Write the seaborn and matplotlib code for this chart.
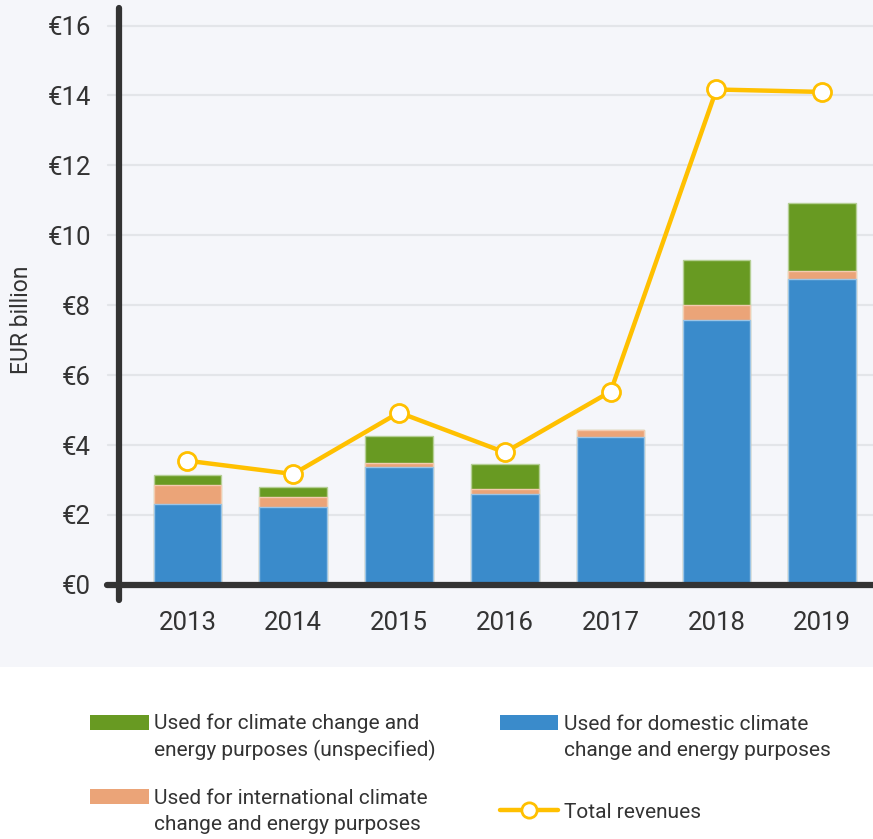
import numpy as np
import pandas as pd
import matplotlib
matplotlib.use("Agg")
import matplotlib.pyplot as plt
import seaborn as sns
from matplotlib.patches import Patch, Rectangle
from matplotlib.lines import Line2D
from matplotlib.legend_handler import HandlerBase

years = ["2013", "2014", "2015", "2016", "2017", "2018", "2019"]
domestic = [2.32, 2.23, 3.37, 2.60, 4.23, 7.59, 8.75]
international = [0.54, 0.28, 0.11, 0.14, 0.21, 0.41, 0.23]
unspecified = [0.28, 0.30, 0.78, 0.71, 0.00, 1.29, 1.94]
total_revenues = [3.55, 3.17, 4.93, 3.79, 5.53, 14.17, 14.10]
y_ticks = [0, 2, 4, 6, 8, 10, 12, 14, 16]

label_unspec = "Used for climate change and\nenergy purposes (unspecified)"
label_intl = "Used for international climate\nchange and energy purposes"
label_dom = "Used for domestic climate\nchange and energy purposes"
label_total = "Total revenues"

c_dom = "#3a8bcb"
c_intl = "#eba478"
c_unspec = "#689a22"
c_line = "#ffc000"
c_text = "#333333"
c_bg = "#f5f6fa"

sns.set_theme(style="white")
plt.rcParams["font.family"] = ["Roboto", "DejaVu Sans"]
plt.rcParams["text.color"] = c_text

df = pd.DataFrame({
    "year": years,
    "dom": domestic,
    "intl": international,
    "uns": unspecified,
    "total": total_revenues,
})
df["lvl2"] = df["dom"] + df["intl"]
df["lvl3"] = df["lvl2"] + df["uns"]

fig = plt.figure(figsize=(8.73, 8.39), dpi=100)
bg = Rectangle((0, 1 - 667 / 839), 1, 667 / 839, transform=fig.transFigure,
               facecolor=c_bg, edgecolor="none", zorder=-10)
fig.patches.append(bg)
ax = fig.add_axes([0.136, 0.285, 0.864, 0.705])
ax.set_zorder(2)
ax.set_facecolor(c_bg)

bar_kw = dict(width=0.64, linewidth=1.0, saturation=1, zorder=3)
sns.barplot(data=df, x="year", y="lvl3", color=c_unspec, edgecolor="#b5cf95", ax=ax, **bar_kw)
sns.barplot(data=df, x="year", y="lvl2", color=c_intl, edgecolor="#f3cbb0", ax=ax, **bar_kw)
sns.barplot(data=df, x="year", y="dom", color=c_dom, edgecolor="#9cc5e6", ax=ax, **bar_kw)

df["pos"] = np.arange(len(years))
sns.lineplot(data=df, x="pos", y="total", color=c_line, linewidth=3.2, marker="o",
             markersize=13, markerfacecolor="white", markeredgecolor=c_line,
             markeredgewidth=2.0, ax=ax, zorder=5)

ax.set_xlim(-0.65, 6.48)
ax.set_ylim(-0.43, 16.49)
ax.set_yticks(y_ticks)
ax.set_yticklabels([f"€{v}" for v in y_ticks])
ax.set_xticks(range(len(years)))
ax.set_xticklabels(years)
ax.set_xlabel("")
ax.set_ylabel("EUR billion", fontsize=16.5, color=c_text)
ax.yaxis.set_label_coords(-0.114, 0.473)
ax.tick_params(axis="y", length=0, pad=20, labelsize=18.5, labelcolor=c_text)
ax.tick_params(axis="x", length=0, pad=8, labelsize=18.5, labelcolor=c_text)

for v in y_ticks[1:]:
    ax.axhline(v, xmin=-0.014, xmax=1, color="#e3e5e9", lw=1.6, zorder=1, clip_on=False)
ax.axhline(0, xmin=-0.016, xmax=1, color="#333333", lw=4.5, zorder=6, clip_on=False,
           solid_capstyle="round")

for s in ["top", "right", "bottom"]:
    ax.spines[s].set_visible(False)
ax.spines["left"].set_color("#333333")
ax.spines["left"].set_linewidth(4.5)
ax.spines["left"].set_capstyle("round")


class TopPatchHandler(HandlerBase):
    def create_artists(self, legend, orig_handle, xdescent, ydescent, width, height,
                       fontsize, trans):
        ph = 0.72 * fontsize
        yc = 1.08 * fontsize
        r = Rectangle((-xdescent, yc - ph / 2), width, ph,
                      facecolor=orig_handle.get_facecolor(), edgecolor="none",
                      transform=trans)
        return [r]


class LineMarkerHandler(HandlerBase):
    def create_artists(self, legend, orig_handle, xdescent, ydescent, width, height,
                       fontsize, trans):
        yc = 0.36 * fontsize
        ln = Line2D([-xdescent, -xdescent + width], [yc, yc], color=c_line, lw=3.2,
                    transform=trans)
        mk = Line2D([-xdescent + width / 2], [yc], marker="o", markersize=11,
                    markerfacecolor="white", markeredgecolor=c_line, markeredgewidth=2,
                    linestyle="none", transform=trans)
        return [ln, mk]


h_unspec = Patch(facecolor=c_unspec)
h_intl = Patch(facecolor=c_intl)
h_dom = Patch(facecolor=c_dom)
h_total = Line2D([0], [0], color=c_line)
handles = [h_unspec, h_intl, h_dom, h_total]
labels = [label_unspec, label_intl, label_dom, label_total]
hmap = {h_unspec: TopPatchHandler(), h_intl: TopPatchHandler(), h_dom: TopPatchHandler(),
        h_total: LineMarkerHandler()}
leg = fig.legend(handles, labels, handler_map=hmap, loc="upper left",
                 bbox_to_anchor=(0.082, 0.172), ncol=2, frameon=False, fontsize=15,
                 handlelength=2.8, handleheight=3.0, handletextpad=0.25,
                 columnspacing=3.1, labelspacing=1.31, labelcolor=c_text)
for t in leg.get_texts():
    t.set_linespacing(1.45)

fig.savefig("out.png", dpi=100)
